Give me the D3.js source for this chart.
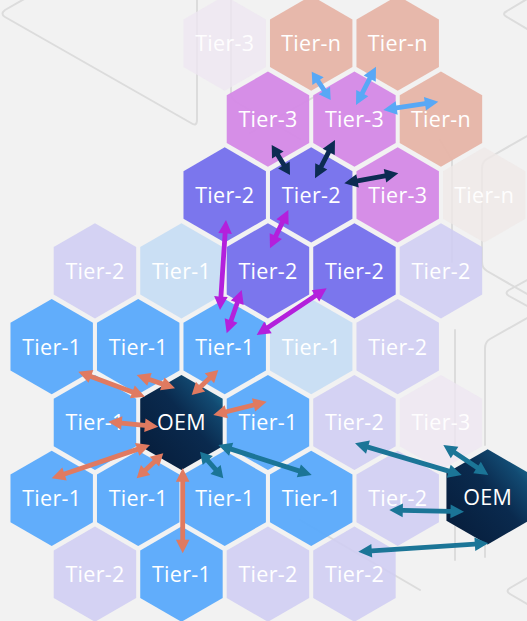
<!DOCTYPE html>
<html><head><meta charset="utf-8">
<script src="https://cdn.jsdelivr.net/npm/d3@7"></script>
<style>
html,body{margin:0;padding:0;background:#f2f2f2;overflow:hidden}
svg{display:block}
</style></head><body>
<svg id="chart" width="527" height="621"></svg>
<script>
// ---- hex nodes (grid: half-column index q, row index) ----
const nodeLabels = ["Tier-3","Tier-n","Tier-n","Tier-3","Tier-3","Tier-n","Tier-2","Tier-2","Tier-3","Tier-n",
  "Tier-2","Tier-1","Tier-2","Tier-2","Tier-2","Tier-1","Tier-1","Tier-1","Tier-1","Tier-2",
  "Tier-1","OEM","Tier-1","Tier-2","Tier-3","Tier-1","Tier-1","Tier-1","Tier-1","Tier-2","OEM",
  "Tier-2","Tier-1","Tier-2","Tier-2"];
const nodeQ   = [4,6,8, 5,7,9, 4,6,8,10, 1,3,5,7,9, 0,2,4,6,8, 1,3,5,7,9, 0,2,4,6,8,10.08, 1,3,5,7];
const nodeRow = [0,0,0, 1,1,1, 2,2,2,2, 3,3,3,3,3, 4,4,4,4,4, 5,5,5,5,5, 6,6,6,6,6,5.98, 7,7,7,7];
const nodeKind = ["t3f","tn","tn","t3","t3","tn","t2","t2","t3","tnf",
  "t2f","t1l","t2","t2","t2f","t1","t1","t1","t1l","t2f",
  "t1","oem","t1","t2f","t3f","t1","t1","t1","t1","t2f","oem",
  "t2f","t1","t2f","t2f"];

// ---- double-headed arrows (grid units) ----
const arrowGroup = ["salmon","salmon","salmon","salmon","salmon","salmon","salmon","salmon",
  "teal","teal","teal","teal","teal","teal",
  "purple","purple","purple","purple",
  "navy","navy","navy",
  "sky","sky","sky"];
const arrowQ1 = [1.309,0.615,1.965,3.237,3.736,2.273,2.580,3.029, 3.429,3.852,9.480,10.095,9.533,10.095, 4.030,4.393,6.358,5.471, 5.087,6.550,6.765, 6.012,7.498,7.667];
const arrowR1 = [4.990,4.330,4.374,4.637,4.901,5.297,5.406,5.604, 5.385,5.297,5.692,5.692,6.176,6.593, 2.330,3.253,3.231,2.198, 1.341,1.275,1.846, 0.375,0.309,0.880];
const arrowQ2 = [2.465,2.157,2.851,3.852,4.971,0.000,1.965,3.029, 3.968,6.012,7.013,9.055,7.806,7.089, 3.892,4.046,4.740,5.047, 5.510,6.088,8.014, 6.451,7.036,8.939];
const arrowR2 = [5.055,4.660,4.549,4.308,4.726,5.736,5.736,6.724, 5.736,5.692,5.274,5.297,6.154,6.703, 3.517,3.824,3.846,2.703, 1.737,1.780,1.715, 0.748,0.814,0.771];

// ---- styles ----
const kindFill = {t1:"#5baafb", t1l:"#c5ddf4", t2:"#7670ec", t2f:"#cfcdf2", t3:"#d487e6", t3f:"#eee6f1", tn:"#e6b4a6", tnf:"#efe9e7", oem:"url(#oemGrad)"};
const kindOpacity = {t1:0.96, t1l:0.9, t2:0.96, t2f:0.88, t3:0.93, t3f:0.8, tn:0.93, tnf:0.8, oem:1};
const arrowColor = {salmon:"#e07a60", teal:"#1b7597", purple:"#b320dc", navy:"#0c2b52", sky:"#58a8f6"};

const svg = d3.select("#chart");
const W = 527, H = 621;
svg.append("rect").attr("width", W).attr("height", H).attr("fill", "#f2f2f2");

const defs = svg.append("defs");
const g = defs.append("linearGradient").attr("id","oemGrad")
  .attr("x1","0").attr("y1","1").attr("x2","1").attr("y2","0");
g.append("stop").attr("offset","0").attr("stop-color","#061b38");
g.append("stop").attr("offset","0.55").attr("stop-color","#0a2a4e");
g.append("stop").attr("offset","0.8").attr("stop-color","#124a72");
g.append("stop").attr("offset","1").attr("stop-color","#1f7fa1");

// ---- faint background decoration ----
const decor = svg.append("g").attr("fill","none").attr("stroke","#dcdcdc").attr("stroke-width",2)
  .attr("stroke-linejoin","round").attr("stroke-linecap","round");
[
 "M26,-2 L5,10 Q0,14 5,17 L191,123 Q197,127 197,120 L197,-4",
 "M231,-4 L231,93 Q231,99 236,102 L300,139",
 "M527,-1 L507,11 Q501,14 507,17 L527,29",
 "M527,136 L487,159 Q482,162 482,168 L482,262 Q482,268 487,271 L527,294",
 "M440,140 L452,160 L452,262",
 "M527,280 L509,290 Q504,293 509,296 L527,306",
 "M527,318 L490,339 Q485,342 485,348 L485,445",
 "M455,330 L455,445",
 "M455,470 L455,560",
 "M485,470 L485,557",
 "M527,578 L510,588 Q505,591 510,594 L527,604",
 "M250,133 L330,88",
 "M300,520 L420,590"
].forEach(d => decor.append("path").attr("d", d));

// ---- scales ----
const x = d3.scaleLinear().domain([0,10]).range([51.7, 484.2]);
const y = d3.scaleLinear().domain([0,7]).range([43.25, 574.2]);
const R = 47.6;
const hexPts = d3.range(6).map(i => {
  const a = (-90 + 60*i) * Math.PI/180;
  return [R*Math.cos(a), R*Math.sin(a)];
});
const hexPath = d3.line()(hexPts) + "Z";

const nodes = nodeLabels.map((label,i) => ({label, q:nodeQ[i], r:nodeRow[i], kind:nodeKind[i]}));

const ng = svg.append("g").selectAll("g").data(nodes).join("g")
  .attr("transform", d => `translate(${x(d.q)},${y(d.r)})`);
ng.append("path").attr("d", hexPath)
  .attr("fill", d => kindFill[d.kind])
  .attr("fill-opacity", d => kindOpacity[d.kind]);
ng.append("text")
  .attr("text-anchor","middle").attr("dy","0.37em")
  .attr("font-family","'Open Sans', sans-serif").attr("font-size", 21.5)
  .attr("letter-spacing", "0.3px")
  .attr("fill","#ffffff")
  .attr("fill-opacity", d => (d.kind==="t3f"||d.kind==="tnf") ? 0.95 : 1)
  .text(d => d.label);

// ---- arrows ----
function arrowPath(x1,y1,x2,y2){
  const dx=x2-x1, dy=y2-y1, L=Math.hypot(dx,dy);
  const ux=dx/L, uy=dy/L, nx=-uy, ny=ux;
  const hl=Math.min(13.5, L/3), hw=6.8, sw=2.4;
  const p = (t,s) => [t[0]+nx*s, t[1]+ny*s];
  const b1=[x1+ux*hl, y1+uy*hl], b2=[x2-ux*hl, y2-uy*hl];
  const pts=[[x1,y1], p(b1,hw), p(b1,sw), p(b2,sw), p(b2,hw), [x2,y2], p(b2,-hw), p(b2,-sw), p(b1,-sw), p(b1,-hw)];
  return d3.line()(pts) + "Z";
}
const arrows = arrowGroup.map((grp,i) => ({grp, q1:arrowQ1[i], r1:arrowR1[i], q2:arrowQ2[i], r2:arrowR2[i]}));
svg.append("g").selectAll("path").data(arrows).join("path")
  .attr("d", d => arrowPath(x(d.q1), y(d.r1), x(d.q2), y(d.r2)))
  .attr("fill", d => arrowColor[d.grp]);
</script>
</body></html>
